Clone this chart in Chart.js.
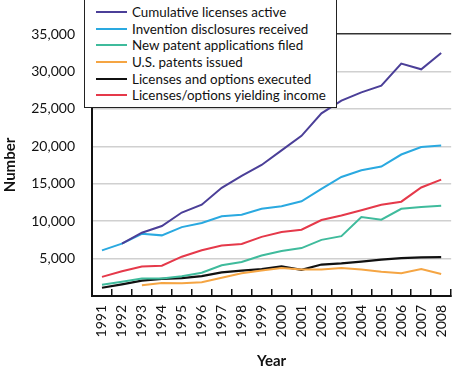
<!DOCTYPE html>
<html>
<head>
<meta charset="utf-8">
<script src="https://cdn.jsdelivr.net/npm/chart.js@4"></script>
<style>
  html, body { margin: 0; padding: 0; background: #fff; }
  #wrap { position: relative; width: 474px; height: 370px; overflow: hidden; }
  #legend {
    position: absolute; left: 84px; top: -20px; width: 253px; height: 128px;
    box-sizing: border-box; border: 1.5px solid #222; background: #fff;
    padding-top: 23px; font-family: Lato, "Open Sans", sans-serif; font-size: 13.4px; color: #111;
  }
  .row { display: flex; align-items: center; height: 16.6px; white-space: nowrap; }
  .sw { width: 31px; height: 2px; margin-left: 10.5px; margin-right: 5.5px; flex: none; }
</style>
</head>
<body>
<div id="wrap">
  <canvas id="c" width="474" height="370"></canvas>
  <div id="legend"></div>
</div>
<script>
const years = ['1991','1992','1993','1994','1995','1996','1997','1998','1999','2000','2001','2002','2003','2004','2005','2006','2007','2008'];
const seriesLabels = ['Cumulative licenses active','Invention disclosures received','New patent applications filed','U.S. patents issued','Licenses and options executed','Licenses/options yielding income'];
const cumulativeLicenses = [null, 7000, 8450, 9350, 11150, 12200, 14450, 16050, 17500, 19450, 21400, 24400, 26100, 27200, 28100, 31050, 30280, 32450];
const inventionDisclosures = [6100, 7000, 8300, 8100, 9200, 9750, 10650, 10850, 11650, 12000, 12650, 14300, 15900, 16800, 17300, 18900, 19900, 20100];
const patentApplications = [1500, 1900, 2350, 2350, 2650, 3100, 4100, 4550, 5400, 6000, 6400, 7500, 8000, 10550, 10200, 11650, 11900, 12050];
const patentsIssued = [null, null, 1450, 1750, 1700, 1850, 2450, 3050, 3400, 3750, 3550, 3550, 3750, 3550, 3250, 3050, 3600, 2950];
const licensesExecuted = [1100, 1550, 2050, 2300, 2400, 2650, 3150, 3400, 3600, 3950, 3500, 4200, 4350, 4600, 4850, 5050, 5150, 5200];
const licensesIncome = [2550, 3300, 3950, 4050, 5250, 6100, 6750, 6950, 7900, 8550, 8850, 10150, 10750, 11450, 12200, 12600, 14500, 15550];
const yMin = 0, yMax = 35000, yStep = 5000;

const colors = ['#4b3f98', '#2aa9e0', '#3fbb9c', '#f5a543', '#111111', '#e5394a'];
const values = [cumulativeLicenses, inventionDisclosures, patentApplications, patentsIssued, licensesExecuted, licensesIncome];

const FONT = 'Lato, "Open Sans", sans-serif';

const datasets = seriesLabels.map((lab, i) => ({
  label: lab,
  data: values[i],
  borderColor: colors[i],
  backgroundColor: colors[i],
  borderWidth: i === 4 ? 2.2 : 2,
  pointRadius: 0,
  tension: 0,
  spanGaps: false,
  fill: false
}));

// HTML legend built from the datasets
const lg = document.getElementById('legend');
datasets.forEach(d => {
  const r = document.createElement('div'); r.className = 'row';
  const s = document.createElement('span'); s.className = 'sw'; s.style.background = d.borderColor;
  const t = document.createElement('span'); t.textContent = d.label;
  r.appendChild(s); r.appendChild(t); lg.appendChild(r);
});

new Chart(document.getElementById('c'), {
  type: 'line',
  data: { labels: years, datasets },
  options: {
    responsive: false,
    animation: false,
    layout: { padding: { top: 34, left: 0, right: 1, bottom: 0 } },
    plugins: { legend: { display: false }, tooltip: { enabled: false } },
    scales: {
      x: {
        type: 'category',
        offset: true,
        afterFit: s => { s.height = 74; },
        grid: { display: true, offset: true, drawOnChartArea: false, drawTicks: true, tickLength: -7, tickColor: '#111', lineWidth: 1.5 },
        border: { display: true, color: '#111', width: 2 },
        ticks: { color: '#111', font: { family: FONT, size: 14 }, maxRotation: 90, minRotation: 90, padding: 16, autoSkip: false },
        title: { display: true, text: 'Year', color: '#111', font: { family: FONT, size: 15, weight: 'bold' }, padding: { top: 2, bottom: 0 } }
      },
      y: {
        min: yMin, max: yMax,
        afterFit: s => { s.width = 92; },
        grid: {
          drawTicks: false,
          color: c => c.tick && c.tick.value === yMax ? '#333' : (c.tick && c.tick.value === 0 ? 'rgba(0,0,0,0)' : '#d0d0d0'),
          lineWidth: 1.5
        },
        border: { display: true, color: '#111', width: 2 },
        ticks: {
          stepSize: yStep, color: '#111', padding: 17,
          font: { family: FONT, size: 14 },
          callback: v => v === 0 ? '' : v.toLocaleString('en-US')
        },
        title: { display: true, text: 'Number', color: '#111', font: { family: FONT, size: 15, weight: 'bold' }, padding: { top: 1, bottom: 0 } }
      }
    }
  }
});
</script>
</body>
</html>
